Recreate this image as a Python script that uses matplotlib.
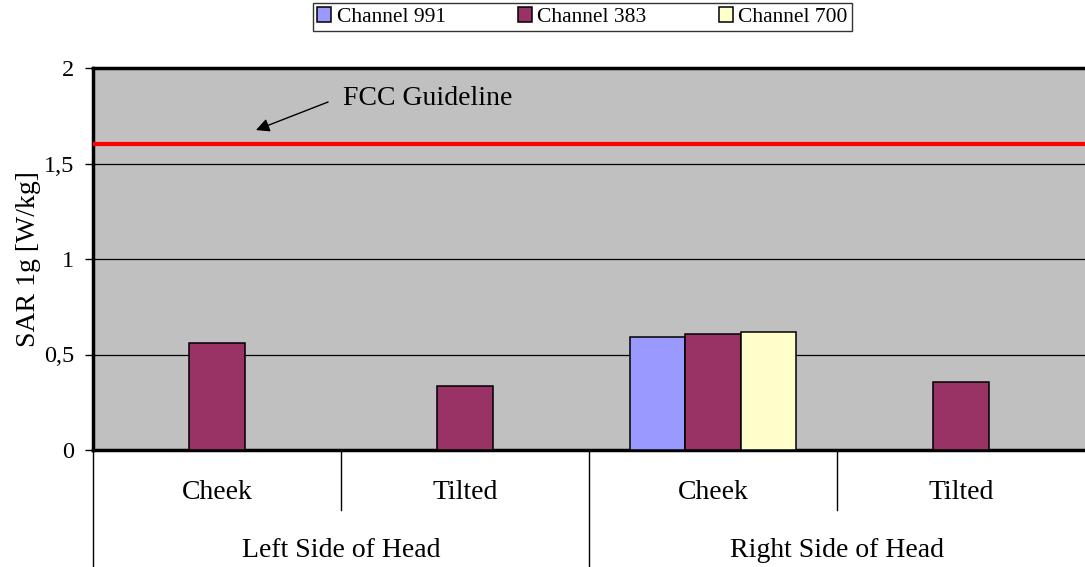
import numpy as np
import matplotlib as mpl
mpl.use('Agg')
import matplotlib.pyplot as plt
from matplotlib.lines import Line2D

plt.rcParams['font.family'] = ['Liberation Serif', 'DejaVu Serif']

# data
positions = ['Cheek', 'Tilted', 'Cheek', 'Tilted']
sides = ['Left Side of Head', 'Right Side of Head']
series = ['Channel 991', 'Channel 383', 'Channel 700']
ch991 = [np.nan, np.nan, 0.59, np.nan]
ch383 = [0.56, 0.335, 0.605, 0.355]
ch700 = [np.nan, np.nan, 0.62, np.nan]
colors = ['#9999FF', '#993366', '#FFFFCC']
fcc_limit = 1.6
yticks = [0, 0.5, 1, 1.5, 2]
yticklabels = ['0', '0,5', '1', '1,5', '2']

W, H = 1085, 567
fig = plt.figure(figsize=(W / 100, H / 100), dpi=100)
ax = fig.add_axes([93 / W, 1 - 450 / H, 992 / W, 382 / H])
ax.set_facecolor('#C0C0C0')

x = np.arange(len(positions))
bw = 0.222
for i, (vals, name) in enumerate(zip([ch991, ch383, ch700], series)):
    ax.bar(x + (i - 1) * bw, vals, bw, color=colors[i], edgecolor='black',
           linewidth=1.1, label=name, zorder=3)

ax.axhline(fcc_limit, color='#FF0000', lw=3, zorder=4)
ax.set_ylim(0, 2)
ax.set_xlim(-0.5, 3.5)
ax.set_yticks(yticks)
ax.set_yticklabels(yticklabels, fontsize=17.5)
ax.set_xticks([])
ax.tick_params(axis='y', direction='out', length=6, width=1, pad=7.5)
ax.yaxis.grid(True, color='black', lw=0.9, zorder=1)
ax.set_axisbelow(True)
ax.set_ylabel('SAR 1g [W/kg]', fontsize=20)
ax.yaxis.set_label_coords(-0.0525, 0.5)

for s in ['left', 'top', 'bottom']:
    ax.spines[s].set_linewidth(2.5)
ax.spines['right'].set_visible(False)

# guideline note with arrow
ax.text(0.508, 1.838, 'FCC Guideline', fontsize=20, va='center', ha='left',
        zorder=5)
ax.annotate('', xy=(0.157, 1.675), xytext=(0.448, 1.822),
            arrowprops=dict(arrowstyle='-|>', color='black', lw=1,
                            mutation_scale=20, shrinkA=0, shrinkB=0),
            zorder=5)

# category axis below the plot
trans = ax.get_xaxis_transform()
for xi, lab in zip(x, positions):
    ax.text(xi, -0.110, lab, transform=trans, ha='center', va='center',
            fontsize=20, clip_on=False)
for k, lab in enumerate(sides):
    ax.text(2 * k + 0.5, -0.262, lab, transform=trans, ha='center',
            va='center', fontsize=20, clip_on=False)
for xs, y_end in [(-0.5, -0.31), (0.5, -0.157), (1.5, -0.31), (2.5, -0.157)]:
    ax.add_line(Line2D([xs, xs], [0, y_end], transform=trans, color='black',
                       lw=1, clip_on=False))

leg = fig.legend(loc='upper left', bbox_to_anchor=(313 / W, 1 - 3 / H), ncol=3,
                 fontsize=15.5, frameon=True, fancybox=False, shadow=False,
                 handlelength=0.65, handleheight=0.65, handletextpad=0.25,
                 columnspacing=3.35, borderpad=0.2, borderaxespad=0)
leg.get_frame().set_edgecolor('black')
leg.get_frame().set_linewidth(1)

fig.savefig('out.png', dpi=100)
